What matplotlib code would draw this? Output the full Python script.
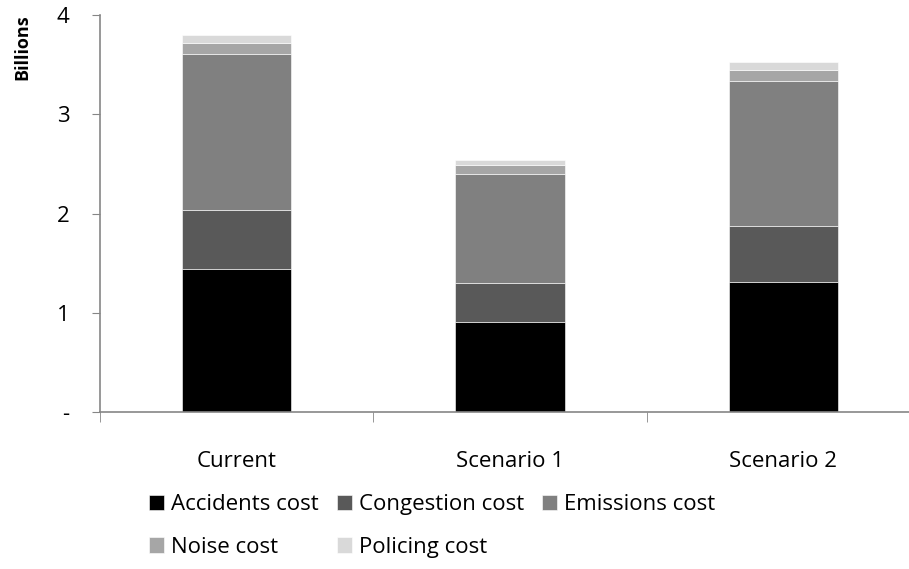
import numpy as np
import matplotlib
matplotlib.use("Agg")
import matplotlib.pyplot as plt

plt.rcParams['font.family'] = ['Open Sans', 'DejaVu Sans']

scenarios = ["Current", "Scenario 1", "Scenario 2"]
cost_names = ["Accidents cost", "Congestion cost", "Emissions cost", "Noise cost", "Policing cost"]

# costs in billions, one list per cost type (Current, Scenario 1, Scenario 2)
accidents = [1.44, 0.91, 1.31]
congestion = [0.60, 0.39, 0.56]
emissions = [1.57, 1.10, 1.46]
noise = [0.11, 0.09, 0.12]
policing = [0.08, 0.05, 0.08]

colors = ["#000000", "#595959", "#808080", "#a6a6a6", "#d9d9d9"]
axis_grey = "#868686"

fig = plt.figure(figsize=(9.09, 5.69), dpi=100)
# axis runs a little past the right edge, as in the spreadsheet export
ax = fig.add_axes([100 / 909, 157 / 569, 820 / 909, 397 / 569])

x = np.arange(len(scenarios))
bottom = np.zeros(len(scenarios))
bars = []
for vals, name, col in zip([accidents, congestion, emissions, noise, policing], cost_names, colors):
    b = ax.bar(x, vals, width=0.4, bottom=bottom, color=col, label=name,
               edgecolor="white", linewidth=0.4)
    bars.append(b)
    bottom += np.array(vals)

ax.set_xlim(-0.5, 2.5)
ax.set_ylim(0, 4)
ax.set_yticks([0, 1, 2, 3, 4])
ax.set_yticklabels(["-", "1", "2", "3", "4"])
ax.set_xticks(x)
ax.set_xticklabels(scenarios)
ax.set_xticks([-0.5, 0.5, 1.5, 2.5], minor=True)
ax.tick_params(axis='x', which='major', length=0, pad=28, labelsize=16)
ax.tick_params(axis='x', which='minor', length=7, color=axis_grey, direction='out')
ax.tick_params(axis='y', length=6, color=axis_grey, direction='out', pad=16, labelsize=16)

for s in ['top', 'right']:
    ax.spines[s].set_visible(False)
for s in ['left', 'bottom']:
    ax.spines[s].set_color(axis_grey)
    ax.spines[s].set_linewidth(1.2)

fig.text(22 / 909, 1 - 14 / 569, "Billions", rotation=90, va='top', ha='center',
         fontsize=13, fontweight='bold')

# legend laid out row by row: matplotlib fills columns first
order = [0, 3, 1, 4, 2]
leg = fig.legend([bars[i] for i in order], [cost_names[i] for i in order],
                 ncol=3, loc='center', bbox_to_anchor=(432 / 909, 1 - 526 / 569),
                 frameon=False, fontsize=16, handlelength=0.7, handleheight=0.7,
                 handletextpad=0.3, columnspacing=0.8, labelspacing=0.95)

fig.savefig("out.png", dpi=100)
